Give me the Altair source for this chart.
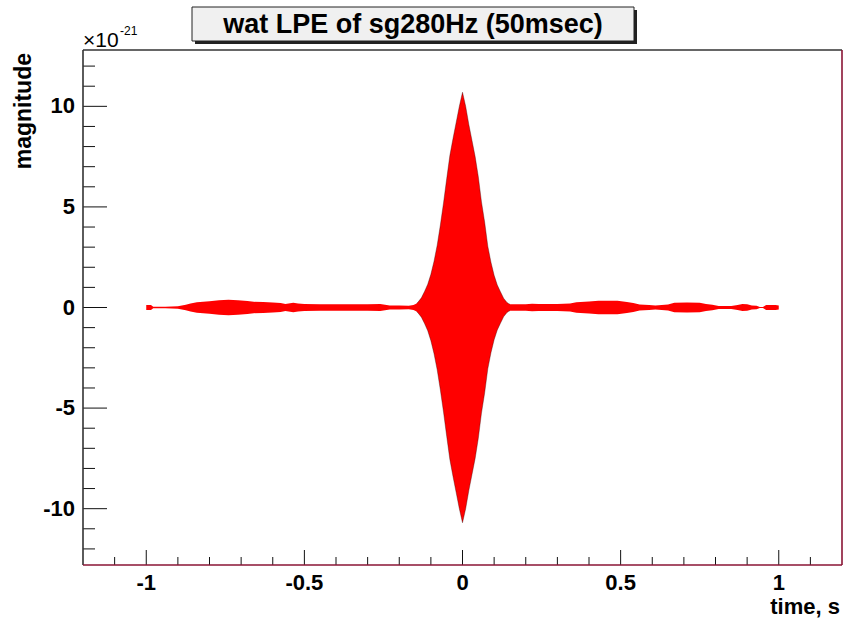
import altair as alt
import pandas as pd

# ---- data (amplitude envelope, units of 1e-21) ----
times = [-1.0, -0.985, -0.978, -0.94, -0.90, -0.875, -0.86, -0.84, -0.80, -0.77, -0.74,
         -0.71, -0.68, -0.66, -0.63, -0.60, -0.575, -0.56, -0.535, -0.52, -0.50, -0.45,
         -0.40, -0.35, -0.30, -0.26, -0.245, -0.23, -0.20, -0.17, -0.155, -0.145,
         -0.14, -0.13, -0.12, -0.11, -0.10, -0.09, -0.08, -0.07, -0.06, -0.05, -0.04,
         -0.03, -0.02, -0.01, 0.0, 0.01, 0.02, 0.03, 0.04, 0.05, 0.06, 0.07, 0.08, 0.09,
         0.10, 0.11, 0.12, 0.13, 0.14, 0.145, 0.15, 0.20, 0.22, 0.24, 0.30, 0.34, 0.36,
         0.40, 0.43, 0.46, 0.49, 0.52, 0.54, 0.56, 0.59, 0.61, 0.63, 0.65, 0.67, 0.71,
         0.75, 0.77, 0.79, 0.81, 0.85, 0.87, 0.885, 0.90, 0.915, 0.93, 0.94, 0.95, 0.96,
         0.99, 1.0]
amp = [0.12, 0.12, 0.04, 0.04, 0.06, 0.14, 0.20, 0.26, 0.31, 0.36, 0.38,
       0.36, 0.32, 0.28, 0.27, 0.25, 0.22, 0.18, 0.24, 0.20, 0.17, 0.16,
       0.16, 0.16, 0.16, 0.17, 0.14, 0.10, 0.10, 0.09, 0.12, 0.20,
       0.28, 0.48, 0.80, 1.15, 1.65, 2.30, 3.10, 4.10, 5.20, 6.40, 7.55,
       8.40, 9.20, 10.00, 10.70, 10.00, 9.10, 8.30, 7.50, 6.50, 5.25, 4.25, 3.05, 2.25,
       1.60, 1.12, 0.78, 0.46, 0.26, 0.20, 0.16, 0.16, 0.19, 0.17, 0.18, 0.20, 0.26,
       0.30, 0.33, 0.34, 0.33, 0.27, 0.22, 0.15, 0.12, 0.10, 0.12, 0.15, 0.23, 0.25,
       0.24, 0.17, 0.14, 0.08, 0.08, 0.12, 0.17, 0.16, 0.10, 0.09, 0.03, 0.03, 0.12,
       0.12, 0.10]

x_major = [-1, -0.5, 0, 0.5, 1]
x_minor = [-1.1, -0.9, -0.8, -0.7, -0.6, -0.4, -0.3, -0.2, -0.1,
           0.1, 0.2, 0.3, 0.4, 0.6, 0.7, 0.8, 0.9, 1.1]
x_labels = ["-1", "-0.5", "0", "0.5", "1"]
y_major = [-10, -5, 0, 5, 10]
y_minor = [-12, -11, -9, -8, -7, -6, -4, -3, -2, -1, 1, 2, 3, 4, 6, 7, 8, 9, 11, 12]
y_labels = ["-10", "-5", "0", "5", "10"]

TITLE = "wat LPE of sg280Hz (50msec)"
XTITLE = "time, s"
YTITLE = "magnitude"

W, H = 759, 515
FONT = "Liberation Sans"
XDOM = [-1.2, 1.2]
YDOM = [-12.8, 12.8]

df = pd.DataFrame({"t": times, "hi": amp})
df["lo"] = -df["hi"]
burst = df[(df["t"] >= -0.15) & (df["t"] <= 0.15)]

xs = alt.Scale(domain=XDOM, nice=False, zero=False)
ys = alt.Scale(domain=YDOM, nice=False, zero=False)

area = alt.Chart(df).mark_area(color="#ff0000", interpolate="linear").encode(
    x=alt.X("t:Q", scale=xs, axis=None),
    y=alt.Y("lo:Q", scale=ys, axis=None),
    y2="hi:Q",
)

edge_hi = alt.Chart(burst).mark_line(color="#300000", strokeWidth=0.8, opacity=0.45).encode(
    x=alt.X("t:Q", scale=xs, axis=None), y=alt.Y("hi:Q", scale=ys, axis=None))
edge_lo = alt.Chart(burst).mark_line(color="#300000", strokeWidth=0.8, opacity=0.45).encode(
    x=alt.X("t:Q", scale=xs, axis=None), y=alt.Y("lo:Q", scale=ys, axis=None))

def yticks(vals, length):
    return alt.Chart(pd.DataFrame({"v": vals})).mark_rule(color="#111", strokeWidth=1).encode(
        y=alt.Y("v:Q", scale=ys, axis=None), x=alt.value(0), x2=alt.value(length))

def xticks(vals, length):
    return alt.Chart(pd.DataFrame({"v": vals})).mark_rule(color="#111", strokeWidth=1).encode(
        x=alt.X("v:Q", scale=xs, axis=None), y=alt.value(H), y2=alt.value(H - length))

xlab = alt.Chart(pd.DataFrame({"v": x_major, "s": x_labels})).mark_text(
    font=FONT, fontSize=22, fontWeight="bold", align="center", baseline="middle",
    color="black").encode(x=alt.X("v:Q", scale=xs, axis=None), y=alt.value(H + 18), text="s:N")
ylab = alt.Chart(pd.DataFrame({"v": y_major, "s": y_labels})).mark_text(
    font=FONT, fontSize=22, fontWeight="bold", align="right", baseline="middle",
    color="black").encode(y=alt.Y("v:Q", scale=ys, axis=None), x=alt.value(-8), text="s:N")

one = pd.DataFrame({"k": [0]})

def frame(x, x2, y, y2, color):
    return alt.Chart(one).mark_rule(color=color, strokeWidth=1.6).encode(
        x=alt.value(x), x2=alt.value(x2), y=alt.value(y), y2=alt.value(y2))

frames = [
    frame(0, W, 0, 0, "#333333"),
    frame(0, 0, 0, H, "#333333"),
    frame(W, W, 0, H, "#8a1535"),
    frame(0, W, H, H, "#8a1535"),
]

shadow = alt.Chart(one).mark_rect(color="#222").encode(
    x=alt.value(112), x2=alt.value(554), y=alt.value(-40), y2=alt.value(-6))
box = alt.Chart(one).mark_rect(fill="#f0f0f0", stroke="#222", strokeWidth=1).encode(
    x=alt.value(109), x2=alt.value(551), y=alt.value(-43), y2=alt.value(-9))

def text(s, x, y, size, weight="bold", align="left", baseline="middle", angle=0):
    return alt.Chart(pd.DataFrame({"s": [s]})).mark_text(
        font=FONT, fontSize=size, fontWeight=weight, align=align, baseline=baseline,
        angle=angle, color="black").encode(x=alt.value(x), y=alt.value(y), text="s:N")

texts = [
    text(TITLE, 330, -25, 27, align="center"),
    text(XTITLE, 757, 557, 22, align="right"),
    text(YTITLE, -59, 3, 23, align="right", angle=270),
    text("\u00d710", 0, -3, 21, weight="normal", baseline="alphabetic"),
    text("-21", 37, -15, 12, weight="normal", baseline="alphabetic"),
]

chart = alt.layer(
    area, edge_hi, edge_lo,
    yticks(y_major, 24), yticks(y_minor, 12),
    xticks(x_major, 15), xticks(x_minor, 8),
    xlab, ylab,
    *frames, shadow, box, *texts,
).properties(
    width=W, height=H,
    autosize=alt.AutoSizeParams(type="none"),
    padding={"left": 83, "top": 50, "right": 3, "bottom": 62},
    background="white",
).configure_view(stroke=None)

chart.save("out.html", embed_options={"renderer": "svg", "actions": False})
